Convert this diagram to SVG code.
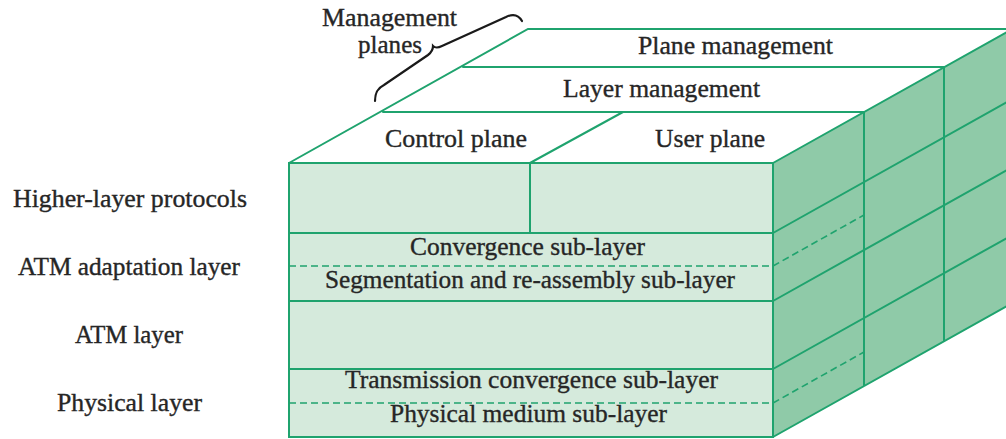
<svg xmlns="http://www.w3.org/2000/svg" width="1006" height="439" viewBox="0 0 1006 439">
<style>
.ln{stroke:#1fa36e;stroke-width:2;fill:none;stroke-linecap:round}
.ds{stroke:#1fa36e;stroke-width:1.6;fill:none;stroke-dasharray:7 4}
.t{font-size:25px;fill:#262626;stroke:#262626;stroke-width:0.35;text-anchor:middle}
</style>
<rect width="1006" height="439" fill="#ffffff"/>
<g id="side-face">
<polygon points="773,163 1006,32.5 1006,306.5 773,437" fill="#8fcaa8"/>
<path class="ln" d="M773,233 L1006,102.5 M773,301 L1006,170.5 M773,369 L1006,238.5 M773,437 L1006,306.5 M864,112 L864,386 M944,67 L944,341"/>
<path class="ds" d="M773,266 L864,215 M773,403 L864,352"/>
</g>
<g id="top-face" font-family="Liberation Serif, Times New Roman, DejaVu Serif, serif">
<polygon points="289,163 528,29 1006,29 1006,32.5 773,163" fill="#ffffff"/>
<path class="ln" d="M289,163 L528,29 L1006,29 M773,163 L1006,32.5 M463,67 L944,67 M383,112 L864,112 M530,163 L623,112"/>
<text class="t" x="735.5" y="54" textLength="195" lengthAdjust="spacingAndGlyphs">Plane management</text>
<text class="t" x="661.5" y="97" textLength="197" lengthAdjust="spacingAndGlyphs">Layer management</text>
<text class="t" x="456" y="147" textLength="142" lengthAdjust="spacingAndGlyphs">Control plane</text>
<text class="t" x="710" y="147" textLength="110" lengthAdjust="spacingAndGlyphs">User plane</text>
</g>
<g id="front-face" font-family="Liberation Serif, Times New Roman, DejaVu Serif, serif">
<rect x="289" y="163" width="484" height="274" fill="#d5eadc"/>
<path class="ln" d="M289,163 L773,163 L773,437 L289,437 Z M289,233 L773,233 M289,301 L773,301 M289,369 L773,369 M530,163 L530,233"/>
<path class="ds" d="M289,266 L773,266 M289,403 L773,403"/>
<text class="t" x="527.5" y="255" textLength="235" lengthAdjust="spacingAndGlyphs">Convergence sub-layer</text>
<text class="t" x="530" y="288" textLength="410" lengthAdjust="spacingAndGlyphs">Segmentation and re-assembly sub-layer</text>
<text class="t" x="531.5" y="388" textLength="373" lengthAdjust="spacingAndGlyphs">Transmission convergence sub-layer</text>
<text class="t" x="528.5" y="422" textLength="277" lengthAdjust="spacingAndGlyphs">Physical medium sub-layer</text>
</g>
<g id="management-planes" font-family="Liberation Serif, Times New Roman, DejaVu Serif, serif">
<path d="M375,101 C375,92 378,88 384,85 L428,55 C432,52 433,49 433,46 C435,48 438,48 442,46 L506,17 C512,14 518,14 522,21" fill="none" stroke="#1a1a1a" stroke-width="2.2" stroke-linecap="round"/>
<text class="t" x="389.5" y="26" textLength="135" lengthAdjust="spacingAndGlyphs">Management</text>
<text class="t" x="390" y="53" textLength="64" lengthAdjust="spacingAndGlyphs">planes</text>
</g>
<g id="layer-labels" font-family="Liberation Serif, Times New Roman, DejaVu Serif, serif">
<text class="t" x="130" y="207" textLength="234" lengthAdjust="spacingAndGlyphs">Higher-layer protocols</text>
<text class="t" x="129" y="275" textLength="222" lengthAdjust="spacingAndGlyphs">ATM adaptation layer</text>
<text class="t" x="129" y="343" textLength="108" lengthAdjust="spacingAndGlyphs">ATM layer</text>
<text class="t" x="129.5" y="411" textLength="145" lengthAdjust="spacingAndGlyphs">Physical layer</text>
</g>
</svg>
